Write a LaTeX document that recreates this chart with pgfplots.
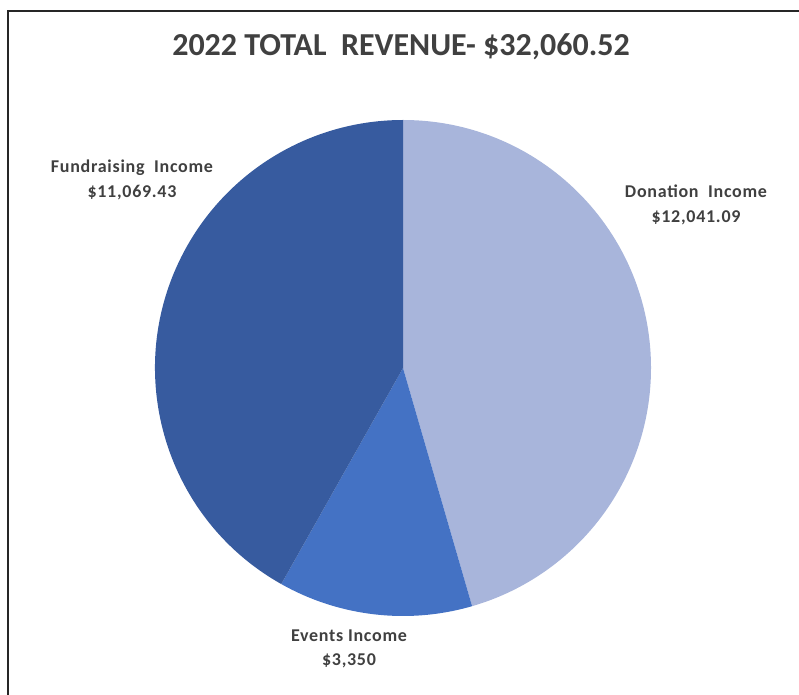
\documentclass[border=0pt]{standalone}
\usepackage{pgfplots}
\usepackage{pgfplotstable}
\pgfplotsset{compat=1.18}
\usepackage{fontspec}
\setmainfont{Carlito}

\definecolor{donation}{HTML}{A8B5DB}
\definecolor{events}{HTML}{4472C4}
\definecolor{fundr}{HTML}{375B9F}
\definecolor{txt}{HTML}{404040}

% slice values, clockwise from the top
\pgfplotstableread{
name value
Donation 12041.09
Events 3350
Fundraising 11069.43
}\revenue

\begin{document}
\begin{tikzpicture}
\pgfplotstablegetelem{0}{value}\of\revenue \let\vA\pgfplotsretval
\pgfplotstablegetelem{1}{value}\of\revenue \let\vB\pgfplotsretval
\pgfplotstablegetelem{2}{value}\of\revenue \let\vC\pgfplotsretval
% work in thousands to stay inside TeX's number range
\pgfmathsetmacro\kA{\vA/1000}
\pgfmathsetmacro\kB{\vB/1000}
\pgfmathsetmacro\kC{\vC/1000}
\pgfmathsetmacro\tot{\kA+\kB+\kC}
\pgfmathsetmacro\aA{90}
\pgfmathsetmacro\aB{\aA-360*\kA/\tot}
\pgfmathsetmacro\aC{\aB-360*\kB/\tot}
\pgfmathsetmacro\aD{\aC-360*\kC/\tot}
\def\cx{403}\def\cy{326}\def\R{248}
\tikzset{lbl/.style={txt, align=center,
    font=\fontsize{18}{24.5}\selectfont\bfseries\addfontfeature{LetterSpace=4}}}
\begin{axis}[
    x=1pt, y=1pt,
    xmin=0, xmax=799, ymin=0, ymax=694,
    hide axis,
    scale only axis,
    clip=true,
]
\fill[donation] (axis cs:\cx,\cy) -- (axis cs:{\cx+\R*cos(\aA)},{\cy+\R*sin(\aA)})
    arc[start angle=\aA, end angle=\aB, radius=\R pt] -- cycle;
\fill[events] (axis cs:\cx,\cy) -- (axis cs:{\cx+\R*cos(\aB)},{\cy+\R*sin(\aB)})
    arc[start angle=\aB, end angle=\aC, radius=\R pt] -- cycle;
\fill[fundr] (axis cs:\cx,\cy) -- (axis cs:{\cx+\R*cos(\aC)},{\cy+\R*sin(\aC)})
    arc[start angle=\aC, end angle=\aD, radius=\R pt] -- cycle;
% chart frame
\draw[line width=2.2pt, black!85] (axis cs:8,-10) -- (axis cs:8,683) -- (axis cs:810,683);
\node[txt, font=\fontsize{32}{36}\selectfont\bfseries] at (axis cs:401,647) {2022 TOTAL\ \ REVENUE- \$32,060.52};
\node[lbl] at (axis cs:132,514) {Fundraising\ \ Income\\\$11,069.43};
\node[lbl] at (axis cs:696,489) {Donation\ \ Income\\\$12,041.09};
\node[lbl] at (axis cs:349,45) {Events Income\\\$3,350};
\end{axis}
\pgfresetboundingbox
\path (current axis.south west) rectangle (current axis.north east);
\end{tikzpicture}
\end{document}
